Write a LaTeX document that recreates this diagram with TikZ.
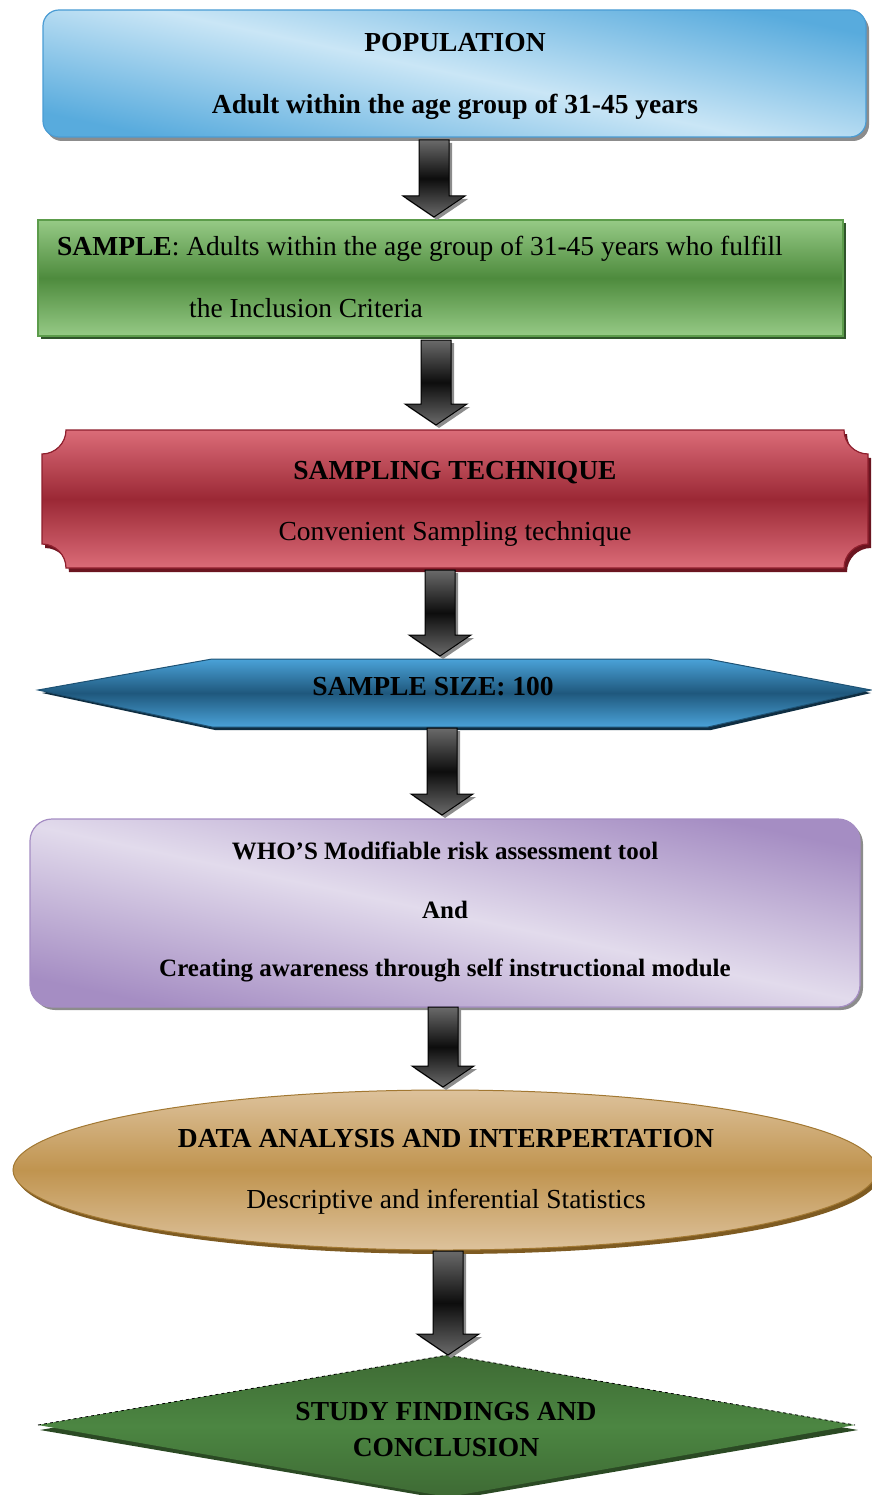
\documentclass[tikz,border=0pt]{standalone}
\usepackage{fontspec}
\setmainfont{Liberation Serif}
\usetikzlibrary{calc}
\definecolor{popdark}{HTML}{58ABDD}
\definecolor{poplight}{HTML}{CAE6F6}
\definecolor{popborder}{HTML}{4A9CD4}
\definecolor{greylight}{HTML}{8C8C8C}
\definecolor{grnlight}{HTML}{96CA86}
\definecolor{grndark}{HTML}{4E8B3D}
\definecolor{grnborder}{HTML}{5C9C4B}
\definecolor{grnshadow}{HTML}{30552B}
\definecolor{redlight}{HTML}{DB6C78}
\definecolor{reddark}{HTML}{9B2835}
\definecolor{redborder}{HTML}{8E1F2D}
\definecolor{redshadow}{HTML}{6B1520}
\definecolor{bluelight}{HTML}{4AA2D8}
\definecolor{bluedark}{HTML}{1F587D}
\definecolor{blueborder}{HTML}{1E5274}
\definecolor{blueshadow}{HTML}{0F2E42}
\definecolor{purdark}{HTML}{A58DC3}
\definecolor{purlight}{HTML}{E2DBEC}
\definecolor{goldlight}{HTML}{DDC29C}
\definecolor{golddark}{HTML}{C0944F}
\definecolor{goldborder}{HTML}{A27832}
\definecolor{goldshadow}{HTML}{7E5B22}
\definecolor{dgrnlight}{HTML}{3E6A34}
\definecolor{dgrndark}{HTML}{4C8642}
\definecolor{dgrnshadow}{HTML}{2B4A24}
\definecolor{arrgray}{HTML}{6A6A6A}
\newcommand\blockarrow[2]{%
  \fill[greylight] let \p1=(#1), \p2=(#2) in
    (\x1-12pt,\y1-3pt) -- (\x1+18pt,\y1-3pt) -- (\x1+18pt,\y2+18pt) -- (\x1+34pt,\y2+18pt)
    -- (\x1+3pt,\y2-3pt) -- (\x1-28pt,\y2+18pt) -- (\x1-12pt,\y2+18pt) -- cycle;
  \shade[top color=arrgray, bottom color=arrgray, middle color=black!95, draw=black, line width=1pt]
    let \p1=(#1), \p2=(#2) in
    (\x1-15pt,\y1) -- (\x1+15pt,\y1) -- (\x1+15pt,\y2+21pt) -- (\x1+31pt,\y2+21pt)
    -- (\x1,\y2) -- (\x1-31pt,\y2+21pt) -- (\x1-15pt,\y2+21pt) -- cycle;
}
\tikzset{
  big/.style={font=\fontsize{27.5}{33}\selectfont, inner sep=0pt, text height=0.7em, text depth=0.2em},
  bigb/.style={big, font=\fontsize{27.5}{33}\selectfont\bfseries},
  midb/.style={font=\fontsize{25}{30}\selectfont\bfseries, inner sep=0pt, text height=0.7em, text depth=0.2em},
}
\begin{document}
\begin{tikzpicture}[x=1pt,y=-1pt]
\useasboundingbox (0,0) rectangle (871,1495);
% ---------- POPULATION
\fill[greylight, rounded corners=16] (46,14) rectangle (869,141);
\shade[rounded corners=16, top color=popdark, bottom color=popdark, middle color=poplight, shading angle=-12]
  (43,10) rectangle (866,137);
\draw[popborder, line width=1.2pt, rounded corners=16] (43,10) rectangle (866,137);
\node[bigb] (pop1) at (455,49) {POPULATION};
\node[bigb] (pop2) at (455,111) {Adult within the age group of 31-45 years};
% ---------- SAMPLE
\fill[grnshadow] (41,223) rectangle (846,339);
\shade[top color=grnlight, bottom color=grnlight, middle color=grndark] (38,220) rectangle (843,336);
\draw[grnborder, line width=1.2pt] (38,220) rectangle (843,336);
\node[big, anchor=west] (samp1) at (57,253) {\textbf{SAMPLE}: Adults within the age group of 31-45 years who fulfill};
\node[big, anchor=west] (samp2) at (189,315) {the Inclusion Criteria};
% ---------- SAMPLING TECHNIQUE
\fill[redshadow, shift={(3,4)}] (66,430) -- (844,430) .. controls (844,443.2) and (854.8,454) .. (868,454)
  -- (868,544) .. controls (854.8,544) and (844,554.8) .. (844,568) -- (66,568)
  .. controls (66,554.8) and (55.2,544) .. (42,544) -- (42,454)
  .. controls (55.2,454) and (66,443.2) .. (66,430) -- cycle;
\shade[top color=redlight, bottom color=redlight, middle color=reddark]
  (66,430) -- (844,430) .. controls (844,443.2) and (854.8,454) .. (868,454)
  -- (868,544) .. controls (854.8,544) and (844,554.8) .. (844,568) -- (66,568)
  .. controls (66,554.8) and (55.2,544) .. (42,544) -- (42,454)
  .. controls (55.2,454) and (66,443.2) .. (66,430) -- cycle;
\draw[redborder, line width=1.2pt]
  (66,430) -- (844,430) .. controls (844,443.2) and (854.8,454) .. (868,454)
  -- (868,544) .. controls (854.8,544) and (844,554.8) .. (844,568) -- (66,568)
  .. controls (66,554.8) and (55.2,544) .. (42,544) -- (42,454)
  .. controls (55.2,454) and (66,443.2) .. (66,430) -- cycle;
\node[bigb] (tech1) at (455,477) {SAMPLING TECHNIQUE};
\node[big] (tech2) at (455,538) {Convenient Sampling technique};
% ---------- SAMPLE SIZE
\fill[blueshadow] (42,693) -- (215,662) -- (711,662) -- (871,693) -- (711,730) -- (215,730) -- cycle;
\shade[top color=bluelight, bottom color=bluelight, middle color=bluedark]
  (38,690) -- (212,659) -- (708,659) -- (871,690) -- (708,727) -- (212,727) -- cycle;
\draw[blueborder, line width=1pt]
  (38,690) -- (212,659) -- (708,659) -- (871,690) -- (708,727) -- (212,727) -- cycle;
\node[bigb] (size) at (433,693) {SAMPLE SIZE: 100};
% ---------- WHO
\fill[greylight, rounded corners=22] (33,822) rectangle (863,1010);
\shade[rounded corners=22, top color=purdark, bottom color=purdark, middle color=purlight, shading angle=-12]
  (30,819) rectangle (860,1007);
\draw[purdark, line width=1.2pt, rounded corners=22] (30,819) rectangle (860,1007);
\node[midb] (who1) at (445,857) {WHO’S Modifiable risk assessment tool};
\node[midb] (who2) at (445,916) {And};
\node[midb] (who3) at (445,974) {Creating awareness through self instructional module};
% ---------- DATA ANALYSIS
\fill[goldshadow] (448,1174) ellipse [x radius=432, y radius=80];
\shade[top color=goldlight, bottom color=goldlight, middle color=golddark] (445,1170) ellipse [x radius=432, y radius=80];
\draw[goldborder, line width=1pt] (445,1170) ellipse [x radius=432, y radius=80];
\node[bigb] (data1) at (446,1145) {DATA ANALYSIS AND INTERPERTATION};
\node[big] (data2) at (446,1206) {Descriptive and inferential Statistics};
% ---------- STUDY FINDINGS
\fill[dgrnshadow] (450,1359) -- (858,1430) -- (450,1500) -- (40,1430) -- cycle;
\shade[top color=dgrnlight, bottom color=dgrnlight, middle color=dgrndark]
  (448,1355) -- (855,1425) -- (448,1497) -- (38,1425) -- cycle;
\draw[black, line width=0.8pt, dashed] (38,1425) -- (448,1355) -- (855,1425);
\node[bigb] (find1) at (446,1418) {STUDY FINDINGS AND};
\node[bigb] (find2) at (446,1454) {CONCLUSION};
% ---------- arrows
\coordinate (a1t) at (434,140);  \coordinate (a1b) at (434,217);
\coordinate (a2t) at (436,340);  \coordinate (a2b) at (436,425);
\coordinate (a3t) at (440,570);  \coordinate (a3b) at (440,656);
\coordinate (a4t) at (442,728);  \coordinate (a4b) at (442,815);
\coordinate (a5t) at (443,1007); \coordinate (a5b) at (443,1087);
\coordinate (a6t) at (448,1251); \coordinate (a6b) at (448,1355);
\blockarrow{a1t}{a1b}
\blockarrow{a2t}{a2b}
\blockarrow{a3t}{a3b}
\blockarrow{a4t}{a4b}
\blockarrow{a5t}{a5b}
\blockarrow{a6t}{a6b}
\end{tikzpicture}
\end{document}
